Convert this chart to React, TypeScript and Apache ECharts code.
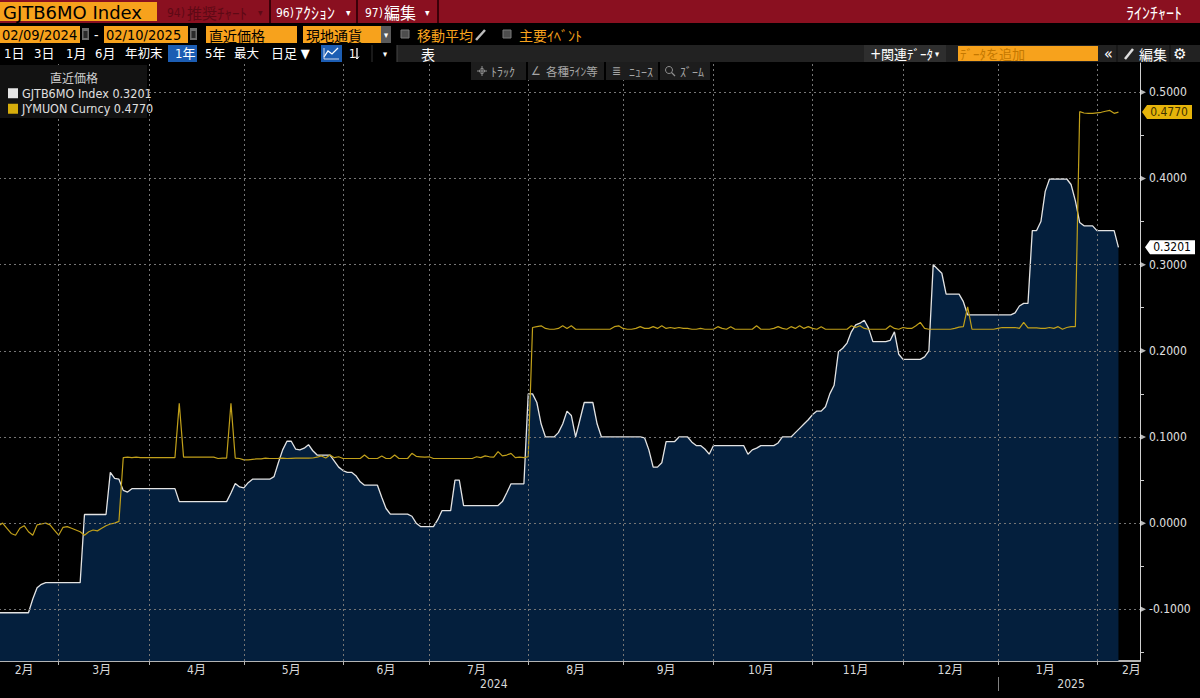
import React, { useEffect, useRef } from "react";
import * as echarts from "echarts";

const FONT = '"DejaVu Sans Condensed", "Noto Sans CJK JP", sans-serif';
const JP = '"Noto Sans CJK JP", "DejaVu Sans Condensed", sans-serif';
const ORANGE = "#f7a21c";

const FIRST_DAY = "2024-02-09";
const LAST_AXIS_DAY = "2025-02-17";

// GJTB6MO Index (white, filled) – one value per weekday, grouped by month
const gjtbFeb24 = [-0.104, -0.104, -0.104, -0.104, -0.104, -0.104, -0.104, -0.104, -0.104, -0.088, -0.075, -0.071, -0.069, -0.069, -0.069];
const gjtbMar24 = [-0.069, -0.069, -0.069, -0.069, -0.069, -0.069, 0.01, 0.01, 0.01, 0.01, 0.01, 0.01, 0.059, 0.052, 0.051, 0.038, 0.036, 0.04, 0.04, 0.04, 0.04];
const gjtbApr24 = [0.04, 0.04, 0.04, 0.04, 0.04, 0.04, 0.04, 0.025, 0.025, 0.025, 0.025, 0.025, 0.025, 0.025, 0.025, 0.025, 0.025, 0.025, 0.025, 0.035, 0.046, 0.042];
const gjtbMay24 = [0.041, 0.047, 0.051, 0.051, 0.051, 0.051, 0.051, 0.054, 0.07, 0.085, 0.095, 0.095, 0.086, 0.085, 0.087, 0.091, 0.084, 0.079, 0.079, 0.079, 0.079, 0.072, 0.065];
const gjtbJun24 = [0.061, 0.059, 0.059, 0.055, 0.048, 0.044, 0.044, 0.044, 0.044, 0.03, 0.017, 0.0104, 0.0104, 0.0104, 0.0104, 0.0104, 0.008, 0.0, -0.004, -0.004];
const gjtbJul24 = [-0.004, -0.004, 0.004, 0.0146, 0.0146, 0.0146, 0.05, 0.05, 0.0204, 0.0204, 0.0204, 0.0204, 0.0204, 0.0204, 0.0204, 0.0204, 0.0204, 0.025, 0.035, 0.0456, 0.0456, 0.0456, 0.0456];
const gjtbAug24 = [0.15, 0.15, 0.14, 0.115, 0.1, 0.1, 0.1, 0.105, 0.115, 0.13, 0.125, 0.1, 0.12, 0.14, 0.14, 0.14, 0.115, 0.1, 0.1, 0.1, 0.1, 0.1];
const gjtbSep24 = [0.1, 0.1, 0.1, 0.1, 0.1, 0.099, 0.085, 0.065, 0.065, 0.07, 0.0947, 0.0947, 0.0947, 0.1, 0.1, 0.1, 0.094, 0.09, 0.09, 0.086, 0.08];
const gjtbOct24 = [0.09, 0.09, 0.09, 0.09, 0.09, 0.09, 0.09, 0.09, 0.08, 0.085, 0.087, 0.09, 0.09, 0.09, 0.09, 0.093, 0.1, 0.1, 0.1, 0.105, 0.11, 0.115, 0.12];
const gjtbNov24 = [0.126, 0.13, 0.13, 0.135, 0.15, 0.16, 0.199, 0.203, 0.209, 0.222, 0.23, 0.232, 0.2355, 0.226, 0.2107, 0.2107, 0.2107, 0.2107, 0.212, 0.222, 0.196];
const gjtbDec24 = [0.19, 0.19, 0.19, 0.19, 0.19, 0.193, 0.2, 0.3, 0.295, 0.29, 0.2657, 0.2657, 0.2657, 0.2657, 0.257, 0.2416, 0.2416, 0.2416, 0.2416, 0.2416, 0.2416, 0.2416];
const gjtbJan25 = [0.2416, 0.2416, 0.2416, 0.2416, 0.244, 0.252, 0.255, 0.255, 0.3395, 0.3395, 0.35, 0.385, 0.3994, 0.3994, 0.3994, 0.3994, 0.3994, 0.393, 0.374, 0.349, 0.345, 0.345, 0.345];
const gjtbFeb25 = [0.3395, 0.3395, 0.3395, 0.3395, 0.3395, 0.3201];

// JYMUON Curncy (gold line) – one value per weekday, grouped by month
const jymFeb24 = [-0.004, -0.003, 0.0, -0.006, -0.012, -0.014, -0.006, -0.003, -0.01, -0.014, -0.002, -0.001, 0.0, -0.002, -0.008];
const jymMar24 = [-0.014, -0.005, -0.004, -0.006, -0.008, -0.01, -0.014, -0.01, -0.008, -0.009, -0.006, -0.003, -0.001, 0.0, 0.002, 0.076, 0.0765, 0.076, 0.0765, 0.076, 0.076];
const jymApr24 = [0.076, 0.076, 0.076, 0.076, 0.076, 0.076, 0.076, 0.139, 0.0766, 0.0766, 0.0766, 0.0766, 0.0766, 0.0766, 0.0766, 0.0766, 0.075, 0.0755, 0.0755, 0.139, 0.0755, 0.075];
const jymMay24 = [0.0734, 0.0734, 0.074, 0.0745, 0.0746, 0.0755, 0.075, 0.075, 0.0752, 0.0755, 0.075, 0.0752, 0.0754, 0.0754, 0.0754, 0.0754, 0.0756, 0.0765, 0.078, 0.0755, 0.079, 0.076, 0.077];
const jymJun24 = [0.075, 0.075, 0.075, 0.075, 0.075, 0.079, 0.075, 0.075, 0.075, 0.078, 0.075, 0.075, 0.079, 0.075, 0.075, 0.075, 0.081, 0.0775, 0.077, 0.0765];
const jymJul24 = [0.077, 0.075, 0.075, 0.075, 0.075, 0.075, 0.075, 0.075, 0.075, 0.075, 0.075, 0.077, 0.076, 0.078, 0.077, 0.0765, 0.083, 0.078, 0.079, 0.081, 0.076, 0.0765, 0.076];
const jymAug24 = [0.077, 0.227, 0.228, 0.229, 0.226, 0.225, 0.225, 0.226, 0.229, 0.226, 0.229, 0.225, 0.225, 0.225, 0.225, 0.225, 0.225, 0.225, 0.225, 0.225, 0.228, 0.229];
const jymSep24 = [0.226, 0.225, 0.225, 0.226, 0.228, 0.226, 0.226, 0.228, 0.226, 0.229, 0.226, 0.227, 0.226, 0.227, 0.226, 0.226, 0.225, 0.225, 0.226, 0.225, 0.225];
const jymOct24 = [0.225, 0.228, 0.226, 0.225, 0.228, 0.225, 0.225, 0.225, 0.225, 0.225, 0.229, 0.225, 0.225, 0.225, 0.226, 0.228, 0.226, 0.225, 0.228, 0.226, 0.229, 0.226, 0.228];
const jymNov24 = [0.226, 0.225, 0.228, 0.225, 0.225, 0.225, 0.225, 0.225, 0.225, 0.229, 0.227, 0.229, 0.226, 0.225, 0.225, 0.225, 0.225, 0.225, 0.229, 0.226, 0.225];
const jymDec24 = [0.227, 0.226, 0.226, 0.229, 0.233, 0.226, 0.225, 0.225, 0.225, 0.225, 0.225, 0.225, 0.226, 0.2275, 0.228, 0.251, 0.225, 0.225, 0.225, 0.225, 0.225, 0.225];
const jymJan25 = [0.226, 0.227, 0.227, 0.227, 0.227, 0.226, 0.233, 0.2265, 0.2265, 0.2265, 0.226, 0.226, 0.227, 0.226, 0.228, 0.225, 0.227, 0.228, 0.228, 0.4775, 0.476, 0.4756, 0.4756];
const jymFeb25 = [0.4762, 0.4768, 0.478, 0.479, 0.4756, 0.477];

// right axis tick values
const yMajorTicks = [-0.1, 0, 0.1, 0.2, 0.3, 0.4, 0.5];
const yMinorTicks = [-0.15, -0.05, 0.05, 0.15, 0.25, 0.35, 0.45];

const SERIES_A = "GJTB6MO Index";
const SERIES_B = "JYMUON Curncy";

function weekdays(from: string, to: string): string[] {
  const out: string[] = [];
  const d = new Date(from + "T00:00:00Z");
  const end = new Date(to + "T00:00:00Z");
  while (d <= end) {
    const wd = d.getUTCDay();
    if (wd !== 0 && wd !== 6) out.push(d.toISOString().slice(0, 10));
    d.setUTCDate(d.getUTCDate() + 1);
  }
  return out;
}

function runsBy(cats: string[], len: number) {
  const runs: { key: string; start: number; end: number }[] = [];
  cats.forEach((c, i) => {
    const k = c.slice(0, len);
    const last = runs[runs.length - 1];
    if (!last || last.key !== k) runs.push({ key: k, start: i, end: i });
    else last.end = i;
  });
  return runs;
}

function buildOption() {
  const cats = weekdays(FIRST_DAY, LAST_AXIS_DAY);
  const gjtb = [
    ...gjtbFeb24, ...gjtbMar24, ...gjtbApr24, ...gjtbMay24, ...gjtbJun24, ...gjtbJul24,
    ...gjtbAug24, ...gjtbSep24, ...gjtbOct24, ...gjtbNov24, ...gjtbDec24, ...gjtbJan25, ...gjtbFeb25,
  ];
  const jym = [
    ...jymFeb24, ...jymMar24, ...jymApr24, ...jymMay24, ...jymJun24, ...jymJul24,
    ...jymAug24, ...jymSep24, ...jymOct24, ...jymNov24, ...jymDec24, ...jymJan25, ...jymFeb25,
  ];
  const lastA = gjtb[gjtb.length - 1];
  const lastB = jym[jym.length - 1];
  const lastCat = cats[cats.length - 1];

  const months = runsBy(cats, 7);
  const monthStarts = new Set(months.slice(1).map((r) => r.start));
  const monthLabel = new Map<number, string>();
  months.forEach((r, k) => {
    const idx = k === months.length - 1 ? r.end - 2 : Math.round((r.start + r.end) / 2);
    monthLabel.set(idx, Number(r.key.slice(5)) + "月");
  });
  const years = runsBy(cats, 4);
  const yearStarts = new Set(years.slice(1).map((r) => r.start));
  const yearLabel = new Map<number, string>();
  years.forEach((r) => yearLabel.set(Math.round((r.start + r.end) / 2), r.key));

  const gridStyle = { type: [2, 3], color: "#757575", width: 1 };
  // a zero-valued markLine item is skipped, so the zero gridline sits a hair above 0
  const gridLines = [
    ...yMajorTicks.map((v) => ({ yAxis: v === 0 ? 1e-7 : v })),
    ...months.slice(1).map((r) => ({ xAxis: cats[r.start] })),
  ];

  const tagPath = "path://M0,7L5,0L50,0L50,14L5,14Z";

  // ---------- toolbar graphics ----------
  const txt = (x: number, y: number, text: string, o: any = {}) => ({
    type: "text",
    x,
    y,
    z: o.z ?? 20,
    silent: true,
    style: {
      text,
      fill: o.fill ?? "#ffffff",
      fontSize: o.size ?? 13,
      fontFamily: o.font ?? FONT,
      align: o.align ?? "left",
      verticalAlign: "middle",
    },
  });
  const box = (x: number, y: number, w: number, h: number, fill: string, z = 19, extra: any = {}) => ({
    type: "rect",
    z,
    silent: true,
    shape: { x, y, width: w, height: h },
    style: { fill, ...extra },
  });
  const ln = (x1: number, y1: number, x2: number, y2: number, stroke: string, lw = 1, z = 20) => ({
    type: "line",
    z,
    silent: true,
    shape: { x1, y1, x2, y2 },
    style: { stroke, lineWidth: lw },
  });
  const DIM = "#5e0915";
  const TB = "#a6a6a6";

  const elements: any[] = [
    // row 1
    box(0, 0, 1200, 23, "#8a1020", 18),
    box(0, 2, 157, 19, ORANGE),
    txt(3, 12, "GJTB6MO Index", { fill: "#000", size: 18, font: '"DejaVu Sans", sans-serif' }),
    ln(270, 0, 270, 23, "#3a0008", 2),
    ln(357, 0, 357, 23, "#3a0008", 2),
    ln(438, 0, 438, 23, "#3a0008", 2),
    txt(167, 12.5, "94)", { fill: DIM, size: 12 }),
    txt(187, 12, "推奨ﾁｬｰﾄ", { fill: DIM, size: 15, font: JP }),
    txt(258, 12, "▾", { fill: DIM, size: 10 }),
    txt(276, 12.5, "96)", { size: 12 }),
    txt(295, 12, "ｱｸｼｮﾝ", { size: 16, font: JP }),
    txt(346, 12, "▾", { size: 10 }),
    txt(365, 12.5, "97)", { size: 12 }),
    txt(384, 12, "編集", { size: 16, font: JP }),
    txt(425, 12, "▾", { size: 10 }),
    txt(1182, 12, "ﾗｲﾝﾁｬｰﾄ", { size: 16, font: JP, align: "right" }),

    // row 2
    box(0, 26, 80, 17, ORANGE),
    txt(2, 34.5, "02/09/2024", { fill: "#000", size: 14.5 }),
    box(82, 28, 7, 12, "#6c6c6c"),
    box(83.5, 31, 4, 7, "#2a2a2a", 20),
    txt(94, 34.5, "-", { size: 14 }),
    box(104, 26, 84, 17, ORANGE),
    txt(106, 34.5, "02/10/2025", { fill: "#000", size: 14.5 }),
    box(190, 28, 7, 12, "#6c6c6c"),
    box(191.5, 31, 4, 7, "#2a2a2a", 20),
    box(206, 26, 91, 17, ORANGE),
    txt(209, 34.5, "直近価格", { fill: "#000", size: 14, font: JP }),
    box(303, 26, 78, 17, ORANGE),
    txt(306, 34.5, "現地通貨", { fill: "#000", size: 14, font: JP }),
    box(381, 26, 10, 17, "#5a5a5a"),
    txt(386, 34.5, "▾", { size: 9, align: "center" }),
    box(401, 30, 8, 8, "#4d4d4d", 19, { stroke: "#7a7a7a", lineWidth: 1 }),
    txt(417, 34.5, "移動平均", { fill: ORANGE, size: 14, font: JP }),
    ln(476, 40, 485, 30, "#bdbdbd", 2.5),
    box(503, 30, 8, 8, "#4d4d4d", 19, { stroke: "#7a7a7a", lineWidth: 1 }),
    txt(519, 34.5, "主要ｲﾍﾞﾝﾄ", { fill: ORANGE, size: 14, font: JP }),

    // row 3
    box(397, 45, 803, 17, "#222222"),
    box(168, 45, 29, 17, "#1c5db3"),
    box(321, 45, 21, 17, "#1c5db3"),
    txt(4, 53.5, "1日", { size: 13 }),
    txt(34, 53.5, "3日", { size: 13 }),
    txt(66, 53.5, "1月", { size: 13 }),
    txt(95, 53.5, "6月", { size: 13 }),
    txt(125, 53.5, "年初末", { size: 12.5 }),
    txt(175, 53.5, "1年", { size: 13 }),
    txt(205, 53.5, "5年", { size: 13 }),
    txt(234, 53.5, "最大", { size: 12.5 }),
    txt(271, 53.5, "日足 ▼", { size: 13 }),
    {
      type: "polyline",
      z: 20,
      silent: true,
      shape: { points: [[324, 57], [328, 51], [332, 54], [338, 48]] },
      style: { stroke: "#ffffff", lineWidth: 1.3, fill: "none" },
    },
    ln(324, 48, 324, 59, "#cfd8ea", 1),
    ln(324, 59, 339, 59, "#cfd8ea", 1),
    txt(349, 53.5, "1", { size: 12 }),
    ln(357, 48, 357, 59, "#ffffff", 1.3),
    {
      type: "polyline",
      z: 20,
      silent: true,
      shape: { points: [[355, 56.5], [357, 59], [359, 56.5]] },
      style: { stroke: "#ffffff", lineWidth: 1, fill: "none" },
    },
    ln(372, 45, 372, 62, "#333333", 1),
    txt(383, 53.5, "▾", { size: 9 }),
    ln(397, 45, 397, 62, "#444444", 1),
    txt(421, 53.5, "表", { size: 14, font: JP }),
    box(864, 45, 82, 17, "#2e2e2e"),
    txt(870, 53.5, "+", { size: 15 }),
    txt(881, 53.5, "関連ﾃﾞｰﾀ", { size: 13, font: JP }),
    txt(935, 53.5, "▾", { size: 9 }),
    box(958, 46, 140, 15, ORANGE),
    txt(960, 53.5, "ﾃﾞｰﾀを追加", { fill: "#c47800", size: 13, font: JP }),
    txt(1104, 53, "«", { size: 16 }),
    ln(1117, 45, 1117, 62, "#0e0e0e", 1),
    ln(1125, 59, 1133, 49, "#dddddd", 2.5),
    txt(1139, 53.5, "編集", { size: 14, font: JP }),
    ln(1170, 45, 1170, 62, "#0e0e0e", 1),
    txt(1180, 53.5, "⚙", { size: 15, align: "center", font: '"DejaVu Sans", sans-serif' }),

    // floating chart toolbar
    box(471, 62, 55, 18, "#1d1d1d"),
    box(528, 62, 76, 18, "#1d1d1d"),
    box(606, 62, 52, 18, "#1d1d1d"),
    box(660, 62, 50, 18, "#1d1d1d"),
    {
      type: "circle",
      z: 20,
      silent: true,
      shape: { cx: 482, cy: 71, r: 2.5 },
      style: { stroke: "#8f8f8f", fill: "none", lineWidth: 1 },
    },
    ln(477, 71, 487, 71, "#8f8f8f", 1),
    ln(482, 66, 482, 76, "#8f8f8f", 1),
    txt(491, 71, "ﾄﾗｯｸ", { fill: TB, size: 12, font: JP }),
    txt(531, 71, "∠", { fill: TB, size: 12 }),
    txt(546, 71, "各種ﾗｲﾝ等", { fill: TB, size: 11.5, font: JP }),
    txt(612, 71, "≣", { fill: TB, size: 12 }),
    txt(629, 71, "ﾆｭｰｽ", { fill: TB, size: 12, font: JP }),
    {
      type: "circle",
      z: 20,
      silent: true,
      shape: { cx: 669, cy: 70, r: 3.5 },
      style: { stroke: "#8f8f8f", fill: "none", lineWidth: 1 },
    },
    ln(671.5, 72.5, 675, 76, "#8f8f8f", 1.3),
    txt(680, 71, "ｽﾞｰﾑ", { fill: TB, size: 12, font: JP }),

    // legend box
    box(0, 65, 147, 53, "#121212", 8),
    txt(74, 77, "直近価格", { fill: "#cfcfcf", size: 12, font: JP, align: "center", z: 10 }),
  ];

  return {
    animation: false,
    backgroundColor: "#000000",
    textStyle: { fontFamily: FONT },
    grid: { left: -6, right: 60, top: 63, bottom: 37, containLabel: false, outerBoundsMode: "none" },
    legend: {
      data: [SERIES_A, SERIES_B],
      orient: "vertical",
      left: 8,
      top: 87,
      padding: 0,
      itemGap: 3,
      itemWidth: 10,
      itemHeight: 10,
      icon: "rect",
      z: 10,
      selectedMode: false,
      textStyle: { color: "#e0e0e0", fontSize: 12.5, fontFamily: FONT, padding: [0, 0, 0, -1] },
      formatter: (name: string) =>
        name === SERIES_A ? `${name} ${lastA.toFixed(4)}` : `${name} ${lastB.toFixed(4)}`,
    },
    xAxis: [
      {
        type: "category",
        data: cats,
        boundaryGap: false,
        axisLine: { show: true, onZero: false, lineStyle: { color: "#b4b4b4", width: 2 } },
        axisTick: {
          show: true,
          interval: (i: number) => monthStarts.has(i),
          length: 4,
          lineStyle: { color: "#b4b4b4", width: 1 },
        },
        axisLabel: {
          interval: (i: number) => monthLabel.has(i),
          formatter: (_v: string, i: number) => monthLabel.get(i) ?? "",
          color: "#d8d8d8",
          fontSize: 12,
          fontFamily: FONT,
          margin: 3,
        },
        splitLine: { show: false },
      },
      {
        type: "category",
        data: cats,
        position: "bottom",
        offset: 16,
        boundaryGap: false,
        axisLine: { show: false, onZero: false },
        axisTick: {
          show: true,
          interval: (i: number) => yearStarts.has(i),
          length: 14,
          lineStyle: { color: "#808080", width: 1 },
        },
        axisLabel: {
          interval: (i: number) => yearLabel.has(i),
          formatter: (_v: string, i: number) => yearLabel.get(i) ?? "",
          color: "#d8d8d8",
          fontSize: 12,
          fontFamily: FONT,
          margin: 1,
        },
        splitLine: { show: false },
      },
    ],
    yAxis: {
      type: "value",
      position: "right",
      min: -0.16,
      max: 0.534,
      axisLine: { show: true, lineStyle: { color: "#cfcfcf", width: 1 } },
      axisTick: {
        show: true,
        customValues: yMinorTicks,
        length: 4,
        lineStyle: { color: "#cfcfcf", width: 1 },
      },
      axisLabel: {
        show: true,
        customValues: yMajorTicks,
        formatter: (v: number) => v.toFixed(4),
        color: "#e0e0e0",
        fontSize: 12,
        fontFamily: FONT,
        margin: 9,
      },
      splitLine: { show: false },
    },
    series: [
      {
        name: SERIES_A,
        type: "line",
        data: gjtb,
        color: "#e6e6e6",
        symbol: "none",
        z: 2,
        lineStyle: { color: "#e3e3e3", width: 1.3 },
        areaStyle: { color: "#041f3d", opacity: 1, origin: "start" },
        markLine: {
          silent: true,
          symbol: ["none", "none"],
          label: { show: false },
          lineStyle: gridStyle,
          emphasis: { disabled: true },
          data: gridLines,
        },
        markPoint: {
          silent: true,
          symbol: tagPath,
          symbolSize: [50, 14],
          symbolOffset: [30, 0],
          itemStyle: { color: "#ffffff" },
          label: {
            show: true,
            position: "inside",
            offset: [2, 0],
            color: "#000000",
            fontSize: 12,
            fontFamily: FONT,
            formatter: (p: any) => Number(p.value).toFixed(4),
          },
          data: [{ coord: [lastCat, lastA], value: lastA }],
        },
      },
      {
        name: SERIES_B,
        type: "line",
        data: jym,
        color: "#d6ad0c",
        symbol: "none",
        z: 3,
        lineStyle: { color: "#c1a01a", width: 1.2 },
        markPoint: {
          silent: true,
          symbol: tagPath,
          symbolSize: [50, 14],
          symbolOffset: [27, 0],
          itemStyle: { color: "#e6b40a" },
          label: {
            show: true,
            position: "inside",
            offset: [2, 0],
            color: "#3f3200",
            fontSize: 12,
            fontFamily: FONT,
            formatter: (p: any) => Number(p.value).toFixed(4),
          },
          data: [{ coord: [lastCat, lastB], value: lastB }],
        },
      },
      {
        name: "axis-markers",
        type: "scatter",
        data: yMajorTicks.map((v) => [lastCat, v]),
        symbol: "triangle",
        symbolSize: [6, 6],
        symbolRotate: -90,
        symbolOffset: [3, 0],
        itemStyle: { color: "#e6e6e6" },
        silent: true,
        clip: false,
        z: 4,
      },
    ],
    graphic: { elements },
  };
}

export default function App() {
  const ref = useRef<HTMLDivElement>(null);
  useEffect(() => {
    if (!ref.current) return;
    const chart = echarts.init(ref.current, null, { renderer: "svg" });
    chart.setOption(buildOption() as any);
    return () => chart.dispose();
  }, []);
  return (
    <div
      ref={ref}
      style={{ position: "fixed", left: 0, top: 0, width: 1200, height: 698, background: "#000" }}
    />
  );
}
